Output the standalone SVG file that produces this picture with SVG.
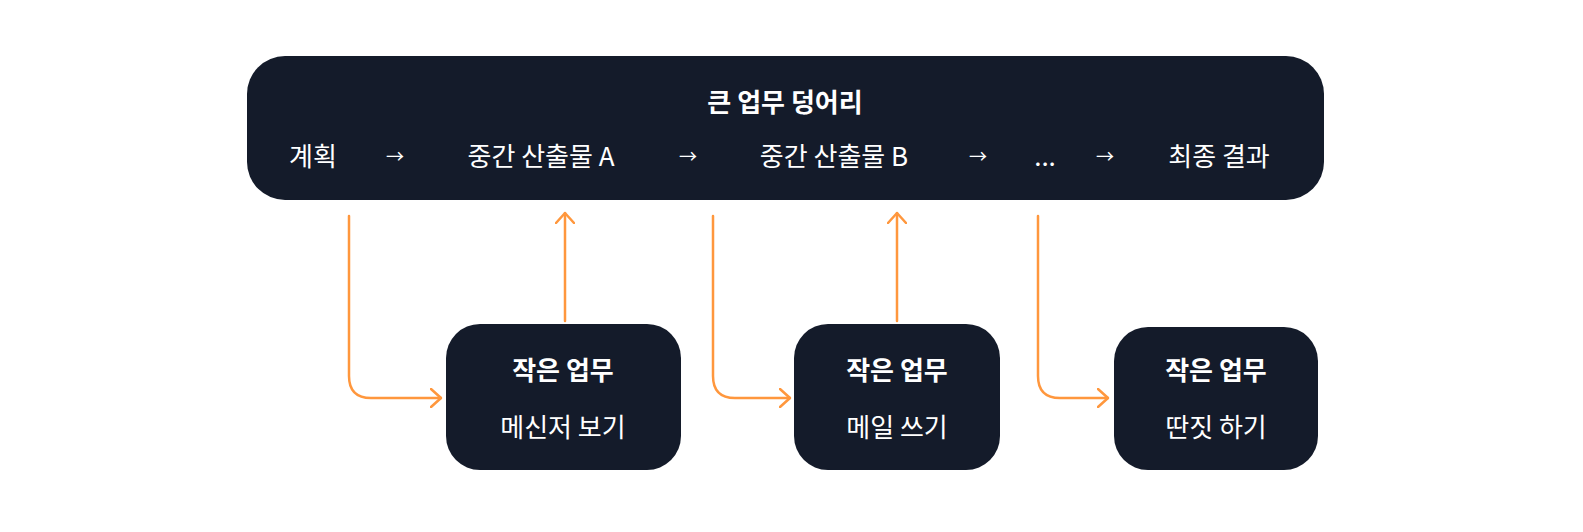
<svg xmlns="http://www.w3.org/2000/svg" width="1583" height="532" viewBox="0 0 1583 532">
<style>
.box{fill:#141b2a}
text{fill:#fff;font-family:"Noto Sans CJK KR","Noto Sans",sans-serif;font-size:26px;text-anchor:middle}
.b{font-weight:700}
.ar{font-size:18px}
.c{fill:none;stroke:#FF973D;stroke-width:2.5;stroke-linecap:round;stroke-linejoin:round}
</style>
<defs><marker id="m" viewBox="0 0 12 20" refX="11" refY="10" markerWidth="12" markerHeight="20" markerUnits="userSpaceOnUse" orient="auto"><path d="M1,1 L11,10 L1,19" fill="none" stroke="#FF973D" stroke-width="2.5" stroke-linecap="round" stroke-linejoin="round"/></marker></defs>
<rect width="1583" height="532" fill="#fff"/>
<g id="big"><rect class="box" x="247" y="56" width="1077" height="144" rx="38"/>
<text class="b" x="785" y="112">큰 업무 덩어리</text>
<text x="313" y="166">계획</text><text class="ar" x="395" y="163">→</text>
<text x="541" y="166">중간 산출물 A</text><text class="ar" x="688" y="163">→</text>
<text x="834" y="166">중간 산출물 B</text><text class="ar" x="978" y="163">→</text>
<text x="1045" y="166">...</text><text class="ar" x="1105" y="163">→</text>
<text x="1219" y="166">최종 결과</text></g>
<g id="t1"><rect class="box" x="446" y="324" width="235" height="146" rx="34"/><text class="b" x="563" y="380">작은 업무</text><text x="563" y="437">메신저 보기</text></g>
<g id="t2"><rect class="box" x="794" y="324" width="206" height="146" rx="34"/><text class="b" x="897" y="380">작은 업무</text><text x="897" y="437">메일 쓰기</text></g>
<g id="t3"><rect class="box" x="1114" y="327" width="204" height="143" rx="34"/><text class="b" x="1216" y="380">작은 업무</text><text x="1216" y="437">딴짓 하기</text></g>
<g id="connectors">
<path class="c" marker-end="url(#m)" d="M349,216 V376 Q349,398 371,398 H441"/>
<path class="c" marker-end="url(#m)" d="M565,321 V213"/>
<path class="c" marker-end="url(#m)" d="M713,216 V376 Q713,398 735,398 H790"/>
<path class="c" marker-end="url(#m)" d="M897,321 V213"/>
<path class="c" marker-end="url(#m)" d="M1038,216 V376 Q1038,398 1060,398 H1108"/>
</g>
</svg>
